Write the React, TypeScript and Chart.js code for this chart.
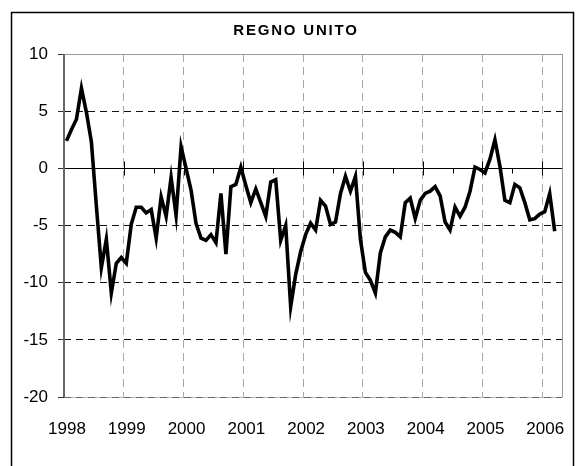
import { useEffect, useRef } from "react";
import { Chart, registerables } from "chart.js";

Chart.register(...registerables);

const TITLE = "REGNO UNITO";
const years = ["1998", "1999", "2000", "2001", "2002", "2003", "2004", "2005", "2006"];
const yTicks = [10, 5, 0, -5, -10, -15, -20];
// monthly values, Jan 1998 .. Mar 2006
const values = [
  2.4, 3.4, 4.3, 7.0, 4.9, 2.3, -3.3, -8.7, -6.2, -10.9, -8.3, -7.8,
  -8.3, -4.9, -3.4, -3.4, -3.9, -3.6, -6.1, -2.5, -4.2, -0.8, -4.1, 1.9,
  0.0, -1.9, -4.8, -6.1, -6.3, -5.8, -6.5, -2.2, -7.5, -1.6, -1.4, 0.1,
  -1.5, -3.0, -1.8, -3.0, -4.2, -1.2, -1.0, -6.3, -5.0, -12.1, -9.3, -7.3,
  -5.8, -4.8, -5.4, -2.8, -3.3, -4.9, -4.7, -2.2, -0.7, -2.0, -0.7, -6.2,
  -9.1, -9.8, -10.9, -7.4, -6.0, -5.4, -5.6, -6.0, -3.0, -2.6, -4.4, -2.8,
  -2.2, -2.0, -1.6, -2.4, -4.7, -5.4, -3.4, -4.2, -3.4, -2.0, 0.1, -0.1,
  -0.4, 0.8, 2.5, 0.2, -2.8, -3.0, -1.4, -1.7, -3.0, -4.5, -4.4, -4.0,
  -3.8, -2.2, -5.5,
];
const MONTHS_ON_AXIS = 100;

const FONT = '"Liberation Sans", Arial, sans-serif';

const decor = {
  id: "decor",
  beforeDatasetsDraw(chart: any) {
    const { ctx, chartArea: a, scales } = chart;
    const x = scales.x;
    const y = scales.y;
    ctx.save();
    ctx.strokeStyle = "#9a9a9a";
    ctx.lineWidth = 1;
    ctx.beginPath();
    ctx.moveTo(a.left, Math.round(a.top) + 0.5);
    ctx.lineTo(a.right, Math.round(a.top) + 0.5);
    ctx.moveTo(Math.round(a.right) + 0.5, a.top);
    ctx.lineTo(Math.round(a.right) + 0.5, a.bottom);
    ctx.stroke();
    const yb = Math.round(y.getPixelForValue(-20)) + 0.5;
    ctx.strokeStyle = "#b5b5b5";
    ctx.beginPath();
    ctx.moveTo(a.left, yb);
    ctx.lineTo(a.right, yb);
    ctx.stroke();
    ctx.setLineDash([7, 5]);
    ctx.strokeStyle = "#666";
    ctx.beginPath();
    ctx.moveTo(a.left, yb);
    ctx.lineTo(a.right, yb);
    ctx.stroke();
    ctx.setLineDash([]);
    const y0 = Math.round(y.getPixelForValue(0)) + 0.5;
    ctx.strokeStyle = "#000";
    ctx.beginPath();
    ctx.moveTo(a.left, y0);
    ctx.lineTo(a.right, y0);
    ctx.stroke();
    ctx.beginPath();
    for (let m = 0; m <= 96; m += 6) {
      const px = Math.round(x.getPixelForValue(m)) + 0.5;
      if (m % 12 === 0) {
        ctx.moveTo(px, y0 - 7);
        ctx.lineTo(px, y0 + 7);
      } else {
        ctx.moveTo(px, y0);
        ctx.lineTo(px, y0 + 5);
      }
    }
    ctx.stroke();
    ctx.strokeStyle = "#666";
    ctx.lineWidth = 2;
    ctx.beginPath();
    ctx.moveTo(a.left, a.top);
    ctx.lineTo(a.left, a.bottom);
    ctx.stroke();
    ctx.restore();
  },
  afterDraw(chart: any) {
    const { ctx } = chart;
    ctx.save();
    ctx.strokeStyle = "#000";
    ctx.lineWidth = 1.5;
    ctx.beginPath();
    ctx.moveTo(11.5, 470);
    ctx.lineTo(11.5, 12.5);
    ctx.lineTo(573.5, 12.5);
    ctx.lineTo(573.5, 470);
    ctx.stroke();
    ctx.fillStyle = "#000";
    ctx.font = `bold 15px ${FONT}`;
    (ctx as any).letterSpacing = "1.8px";
    ctx.textAlign = "center";
    ctx.textBaseline = "middle";
    ctx.fillText(TITLE, 296, 31);
    ctx.restore();
  },
};

export default function App() {
  const ref = useRef<HTMLCanvasElement | null>(null);

  useEffect(() => {
    if (!ref.current) return;
    const points = values.map((v, i) => ({ x: i + 0.5, y: v }));
    const chart = new Chart(ref.current, {
      type: "line",
      data: {
        datasets: [
          {
            data: points,
            borderColor: "#000",
            borderWidth: 3.6,
            pointRadius: 0,
            tension: 0,
            fill: false,
            borderJoinStyle: "miter",
          },
        ],
      },
      options: {
        animation: false,
        responsive: true,
        maintainAspectRatio: false,
        events: [],
        layout: { padding: { top: 54, right: 21, bottom: 0, left: 0 } },
        plugins: {
          legend: { display: false },
          tooltip: { enabled: false },
          title: { display: false },
        },
        scales: {
          x: {
            type: "linear",
            min: 0,
            max: MONTHS_ON_AXIS,
            afterBuildTicks: (scale: any) => {
              scale.ticks = years.map((_, k) => ({ value: k * 12 }));
            },
            afterFit: (scale: any) => {
              scale.height = 69;
            },
            ticks: {
              autoSkip: false,
              maxRotation: 0,
              padding: 22,
              labelOffset: 3,
              color: "#000",
              font: { family: FONT, size: 17 },
              callback: (v: any) => years[Math.round(Number(v) / 12)] ?? "",
            },
            grid: {
              drawTicks: false,
              color: (c: any) => (c.tick && c.tick.value === 0 ? "rgba(0,0,0,0)" : "#a8a8a8"),
              lineWidth: 1,
            },
            border: { display: false, dash: [8, 5] },
          },
          y: {
            type: "linear",
            min: -20,
            max: 10,
            afterBuildTicks: (scale: any) => {
              scale.ticks = yTicks.map((v) => ({ value: v }));
            },
            afterFit: (scale: any) => {
              scale.width = 64;
            },
            ticks: {
              padding: 10,
              color: "#000",
              font: { family: FONT, size: 17 },
              callback: (v: any) => String(v),
            },
            grid: {
              drawTicks: true,
              tickLength: 6,
              tickColor: "#333",
              color: (c: any) => {
                const v = c.tick ? c.tick.value : null;
                return v === 0 || v === 10 || v === -20 ? "rgba(0,0,0,0)" : "#111";
              },
              lineWidth: 1,
            },
            border: { display: false, dash: [7, 5] },
          },
        },
      },
      plugins: [decor],
    });
    return () => chart.destroy();
  }, []);

  return (
    <div style={{ position: "fixed", left: 0, top: 0, width: 584, height: 466, background: "#fff" }}>
      <canvas ref={ref} />
    </div>
  );
}
